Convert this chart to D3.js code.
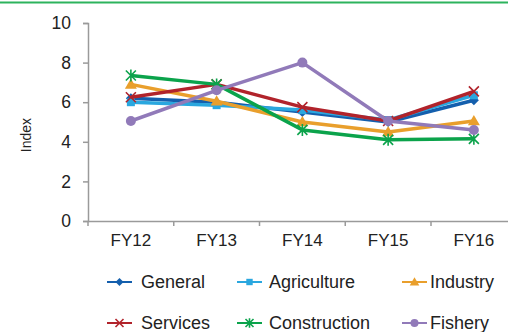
<!DOCTYPE html>
<html>
<head>
<meta charset="utf-8">
<script src="https://cdn.jsdelivr.net/npm/d3@7"></script>
<style>
  body { margin: 0; background: #fff; }
  svg { display: block; font-family: "Liberation Sans", Arial, sans-serif; }
</style>
</head>
<body>
<div id="chart"></div>
<script>
const years = ["FY12", "FY13", "FY14", "FY15", "FY16"];
const seriesNames = ["General", "Agriculture", "Industry", "Services", "Construction", "Fishery"];
const general = [6.2, 6.0, 5.5, 5.0, 6.1];
const agriculture = [6.0, 5.85, 5.6, 5.1, 6.35];
const industry = [6.9, 6.05, 5.0, 4.5, 5.05];
const services = [6.25, 6.9, 5.75, 5.05, 6.55];
const construction = [7.35, 6.9, 4.6, 4.1, 4.15];
const fishery = [5.05, 6.6, 8.0, 5.05, 4.6];
const yTicks = [0, 2, 4, 6, 8, 10];

const colors = ["#145fad", "#2aa7df", "#e99f2c", "#b1232b", "#0ba34b", "#917ab9"];
const shapes = ["diamond", "square", "triangle", "cross", "asterisk", "circle"];
const allValues = [general, agriculture, industry, services, construction, fishery];

const width = 508, height = 332;
const svg = d3.select("#chart").append("svg")
    .attr("width", width)
    .attr("height", height);

// top rule left over from the page this chart was cut from
svg.append("line")
    .attr("x1", 0).attr("x2", width)
    .attr("y1", 2.5).attr("y2", 2.5)
    .attr("stroke", "#2db35d")
    .attr("stroke-width", 2);

const x = d3.scaleBand().domain(years).range([88, 88 + 5 * 85.75]);
const y = d3.scaleLinear().domain([0, 10]).range([221, 23]);
const cx = d => x(d) + x.bandwidth() / 2;

const axisColor = "#9a9a9a";

// y axis
const yAxis = svg.append("g")
    .attr("transform", "translate(88,0)")
    .call(d3.axisLeft(y).tickValues(yTicks).tickSize(5).tickPadding(12));
yAxis.select(".domain").attr("stroke", axisColor).attr("stroke-width", 1.5);
yAxis.selectAll(".tick line").attr("stroke", axisColor).attr("stroke-width", 1.5);
yAxis.selectAll(".tick text")
    .attr("font-size", 17.5)
    .attr("fill", "#222")
    .style("font-family", "'Liberation Sans', Arial, sans-serif");

// x axis, ticks on band boundaries
const xAxis = svg.append("g")
    .attr("transform", "translate(0,221)")
    .call(d3.axisBottom(x).tickSize(0).tickPadding(13));
xAxis.select(".domain").attr("stroke", axisColor).attr("stroke-width", 1.5);
xAxis.selectAll(".tick text")
    .attr("font-size", 17)
    .attr("fill", "#222")
    .style("font-family", "'Liberation Sans', Arial, sans-serif");
xAxis.selectAll(".bound")
    .data(years.concat(["end"]))
    .join("line")
    .attr("x1", (d, i) => i < years.length ? x(d) : x(years[years.length - 1]) + x.bandwidth())
    .attr("x2", (d, i) => i < years.length ? x(d) : x(years[years.length - 1]) + x.bandwidth())
    .attr("y1", 0).attr("y2", 5)
    .attr("stroke", axisColor).attr("stroke-width", 1.5);

svg.append("text")
    .attr("transform", "translate(31,135) rotate(-90)")
    .attr("text-anchor", "middle")
    .attr("font-size", 14)
    .attr("fill", "#222")
    .text("Index");

function marker(g, shape, color, s) {
    if (shape === "diamond") {
        g.append("path").attr("d", `M0,${-s}L${s},0L0,${s}L${-s},0Z`).attr("fill", color);
    } else if (shape === "square") {
        g.append("rect").attr("x", -s * 0.8).attr("y", -s * 0.8)
            .attr("width", s * 1.6).attr("height", s * 1.6).attr("fill", color);
    } else if (shape === "triangle") {
        g.append("path").attr("d", `M0,${-s * 1.2}L${s * 1.2},${s * 0.85}L${-s * 1.2},${s * 0.85}Z`).attr("fill", color);
    } else if (shape === "cross") {
        g.append("path").attr("d", `M${-s},${-s}L${s},${s}M${-s},${s}L${s},${-s}`)
            .attr("stroke", color).attr("stroke-width", 1.6);
    } else if (shape === "asterisk") {
        g.append("path").attr("d", `M${-s},${-s}L${s},${s}M${-s},${s}L${s},${-s}M0,${-s * 1.2}L0,${s * 1.2}`)
            .attr("stroke", color).attr("stroke-width", 1.6);
    } else {
        g.append("circle").attr("r", s).attr("fill", color);
    }
}

const line = d3.line().x(d => cx(d.year)).y(d => y(d.value));

allValues.forEach((vals, i) => {
    const pts = years.map((yr, j) => ({ year: yr, value: vals[j] }));
    const g = svg.append("g");
    g.append("path")
        .datum(pts)
        .attr("d", line)
        .attr("fill", "none")
        .attr("stroke", colors[i])
        .attr("stroke-width", 3.5)
        .attr("stroke-linejoin", "round");
    pts.forEach(p => {
        const m = g.append("g").attr("transform", `translate(${cx(p.year)},${y(p.value)})`);
        marker(m, shapes[i], colors[i], 5);
    });
});

// legend
const legendX = [107, 237, 402];
const legendY = [282, 323];
seriesNames.forEach((name, i) => {
    const lx = legendX[i % 3], ly = legendY[Math.floor(i / 3)];
    const g = svg.append("g").attr("transform", `translate(${lx},${ly})`);
    g.append("line").attr("x1", 0).attr("x2", 25).attr("y1", 0).attr("y2", 0)
        .attr("stroke", colors[i]).attr("stroke-width", 2);
    const m = g.append("g").attr("transform", "translate(12.5,0)");
    marker(m, shapes[i], colors[i], 4);
    g.append("text")
        .attr("x", i % 3 === 2 ? 28 : (i % 3 === 1 ? 32 : 34))
        .attr("y", 0)
        .attr("dy", "0.35em")
        .attr("font-size", 18)
        .attr("fill", "#222")
        .text(name);
});
</script>
</body>
</html>
